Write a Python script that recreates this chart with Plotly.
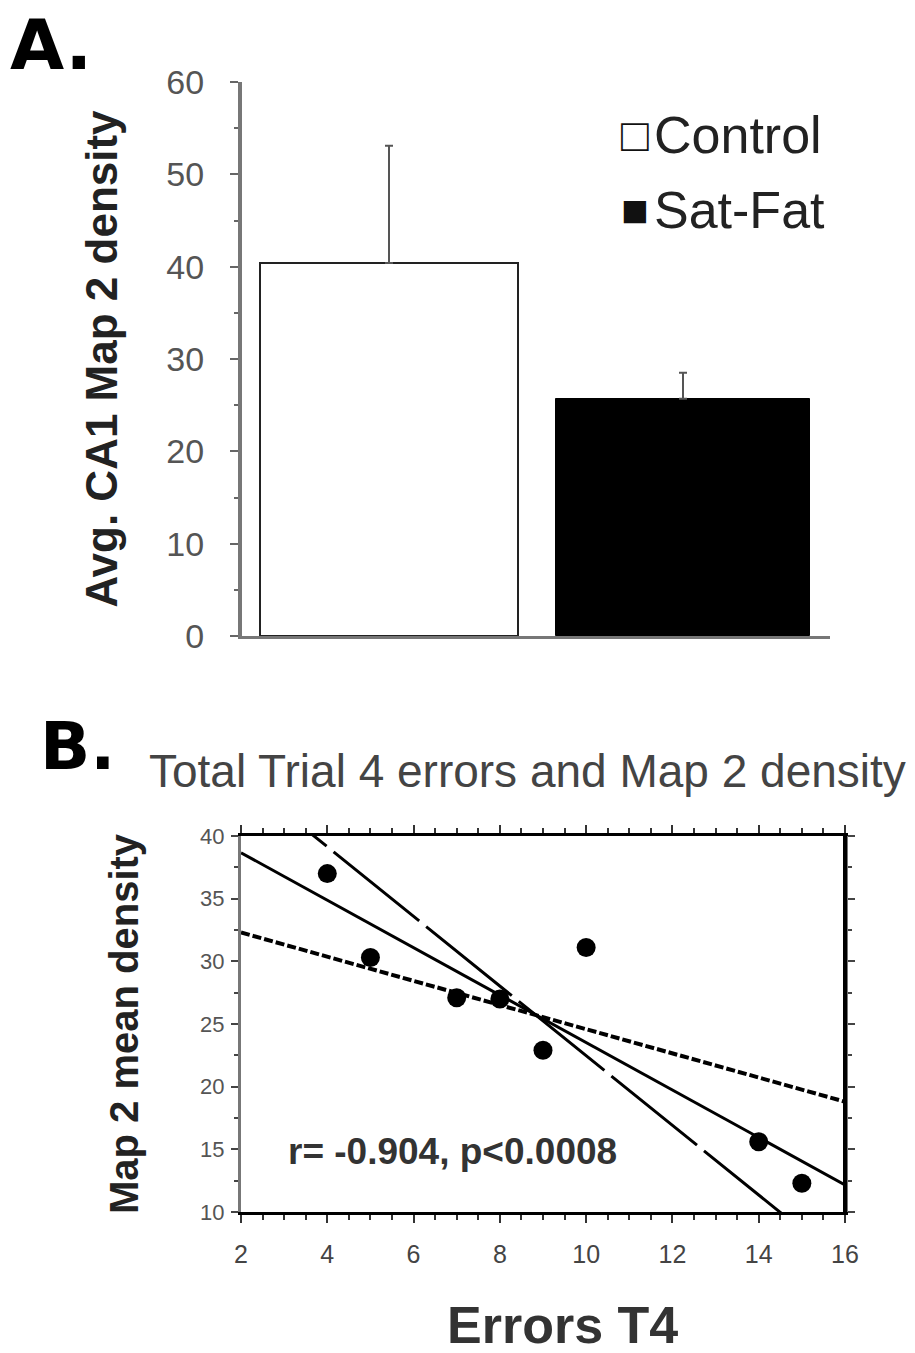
import numpy as np
import plotly.graph_objects as go

# ---------------- data ----------------
groups = ["Control", "Sat-Fat"]
group_pos = [0, 1]
density_mean = [40.4, 25.7]
density_err = [12.7, 2.8]
legend_marks = ["□", "■"]

errors_t4 = [4, 5, 7, 8, 9, 10, 14, 15]
map2_density = [37.0, 30.3, 27.1, 27.0, 22.9, 31.1, 15.6, 12.3]

band_x = [2, 16]
band_short_y = [32.3, 18.8]     # short-dash line
band_long_y = [44.7, 5.8]       # long-dash line (clipped by axes)

stat_text = "r= -0.904, p<0.0008"

W, H = 915, 1353
FONT = "Liberation Sans, Arial, Helvetica, sans-serif"
PANEL_FONT = "DejaVu Sans, Liberation Sans, Arial, sans-serif"


def px(x):
    return x / W


def py(y):
    return 1 - y / H


fig = go.Figure()

# ---------------- Panel A ----------------
fig.add_trace(go.Bar(
    x=[group_pos[0]], y=[density_mean[0]], name=groups[0], width=0.875,
    marker=dict(color="white", line=dict(color="#222", width=2)),
    error_y=dict(type="data", symmetric=False, array=[density_err[0]], arrayminus=[0],
                 color="#555", thickness=2, width=4),
    xaxis="x", yaxis="y", showlegend=False))
fig.add_trace(go.Bar(
    x=[group_pos[1]], y=[density_mean[1]], name=groups[1], width=0.865,
    marker=dict(color="black", line=dict(color="black", width=1)),
    error_y=dict(type="data", symmetric=False, array=[density_err[1]], arrayminus=[0],
                 color="#555", thickness=2, width=4),
    xaxis="x", yaxis="y", showlegend=False))

# ---------------- Panel B ----------------
slope, intercept = np.polyfit(errors_t4, map2_density, 1)
fit_x = np.array(band_x, dtype=float)
fit_y = slope * fit_x + intercept

fig.add_trace(go.Scatter(x=band_x, y=band_long_y, mode="lines",
                         line=dict(color="black", width=3, dash="110px,9px"),
                         xaxis="x2", yaxis="y2", showlegend=False))
fig.add_trace(go.Scatter(x=band_x, y=band_short_y, mode="lines",
                         line=dict(color="black", width=4, dash="9px,3px"),
                         xaxis="x2", yaxis="y2", showlegend=False))
fig.add_trace(go.Scatter(x=fit_x, y=fit_y, mode="lines",
                         line=dict(color="black", width=3),
                         xaxis="x2", yaxis="y2", showlegend=False))
fig.add_trace(go.Scatter(x=errors_t4, y=map2_density, mode="markers",
                         marker=dict(color="black", size=19, symbol="circle"),
                         xaxis="x2", yaxis="y2", showlegend=False))

legend_rows_y = [135, 210]
legend_annotations = []
for mark, name, ry in zip(legend_marks, groups, legend_rows_y):
    legend_annotations.append(dict(
        text=mark, x=px(619), y=py(ry), xref="paper", yref="paper",
        xanchor="left", yanchor="middle", showarrow=False,
        font=dict(size=46, color="#111", family=FONT)))
    legend_annotations.append(dict(
        text=name, x=px(652), y=py(ry), xref="paper", yref="paper",
        xanchor="left", yanchor="middle", showarrow=False,
        font=dict(size=52, color="#222", family=FONT)))

fig.update_layout(
    width=W, height=H,
    margin=dict(l=0, r=0, t=0, b=0),
    paper_bgcolor="white", plot_bgcolor="white",
    font=dict(family=FONT, color="#222"),
    bargap=0,
    # Panel A axes
    xaxis=dict(domain=[px(242), px(830)], range=[-0.5, 1.5], anchor="y", automargin=False,
               showline=True, linecolor="#777", linewidth=3,
               showticklabels=False, ticks="", showgrid=False, zeroline=False),
    yaxis=dict(domain=[py(636), py(82)], range=[0, 60], anchor="x", automargin=False,
               showline=True, linecolor="#777", linewidth=4,
               ticks="outside", ticklen=8, tickwidth=2, tickcolor="#666",
               dtick=10, tick0=0,
               minor=dict(dtick=5, ticks="outside", ticklen=4, tickwidth=2, tickcolor="#666"),
               tickfont=dict(size=34, color="#555", family=FONT),
               ticklabelstandoff=19,
               showgrid=False, zeroline=False,
               title=dict(text="<b>Avg. CA1 Map 2 density</b>",
                          font=dict(size=44, color="#222", family=FONT), standoff=36)),
    # Panel B axes
    xaxis2=dict(domain=[px(241), px(845)], range=[2, 16], anchor="y2", automargin=False,
                showline=True, linecolor="black", linewidth=3, mirror="ticks",
                ticks="outside", ticklen=8, tickwidth=2, tickcolor="#333",
                dtick=2, tick0=0,
                minor=dict(dtick=0.5, ticks="outside", ticklen=5, tickwidth=2, tickcolor="#333"),
                tickfont=dict(size=25, color="#444", family=FONT),
                ticklabelstandoff=10,
                showgrid=False, zeroline=False),
    yaxis2=dict(domain=[py(1212), py(836)], range=[10, 40], anchor="x2", automargin=False,
                showline=True, linecolor="#777", linewidth=3, mirror="ticks",
                ticks="outside", ticklen=7, tickwidth=2, tickcolor="#444",
                dtick=5, tick0=0,
                minor=dict(dtick=2.5, ticks="outside", ticklen=4, tickwidth=2, tickcolor="#444"),
                tickfont=dict(size=22, color="#555", family=FONT),
                ticklabelstandoff=2,
                showgrid=False, zeroline=False,
                title=dict(text="<b>Map 2 mean density</b>",
                           font=dict(size=40, color="#222", family=FONT), standoff=50)),
    shapes=[
        dict(type="line", xref="x2 domain", yref="y2 domain", x0=1, x1=1, y0=0, y1=1,
             x0shift=0.002, x1shift=0.002, line=dict(color="black", width=4)),
    ],
    annotations=[
        dict(text="<b>A.</b>", x=px(8), y=py(2), xref="paper", yref="paper",
             xanchor="left", yanchor="top", showarrow=False,
             font=dict(size=70, color="black", family=PANEL_FONT)),
        dict(text="<b>B.</b>", x=px(38), y=py(746), xref="paper", yref="paper",
             xanchor="left", yanchor="middle", showarrow=False,
             font=dict(size=66, color="black", family=PANEL_FONT)),
        dict(text="Total Trial 4 errors and Map 2 density", x=px(527), y=py(771),
             xref="paper", yref="paper", xanchor="center", yanchor="middle",
             showarrow=False, font=dict(size=46, color="#444", family=FONT)),
        dict(text="<b>" + stat_text + "</b>", x=px(286), y=py(1151),
             xref="paper", yref="paper", xanchor="left", yanchor="middle",
             showarrow=False, font=dict(size=37, color="#333", family=FONT)),
        dict(text="<b>Errors T4</b>", x=px(562), y=py(1325),
             xref="paper", yref="paper", xanchor="center", yanchor="middle",
             showarrow=False, font=dict(size=52, color="#333", family=FONT)),
    ] + legend_annotations,
)

fig.write_html(
    "out.html",
    config={"displayModeBar": False},
    post_script=("document.body.style.margin='0';"
                 "document.body.style.overflow='hidden';"
                 "document.documentElement.style.overflow='hidden';"),
)
